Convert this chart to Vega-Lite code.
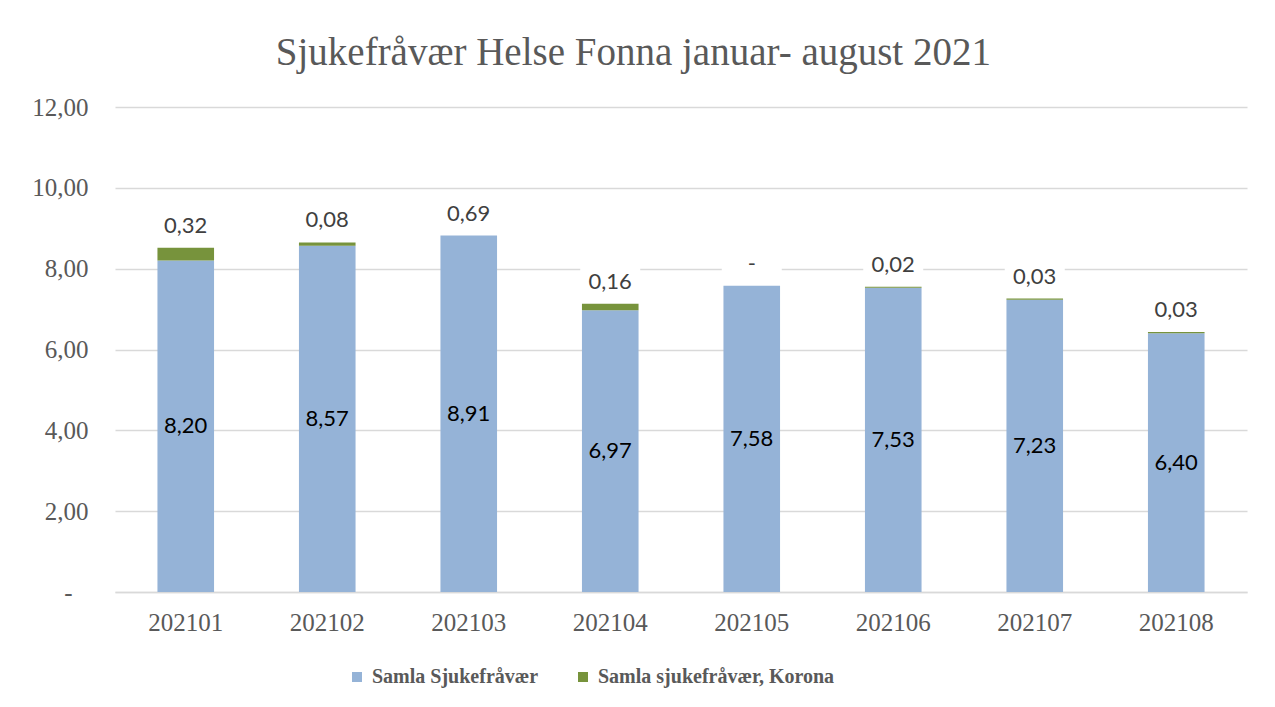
{
  "$schema": "https://vega.github.io/schema/vega-lite/v6.json",
  "width": 1132,
  "height": 485,
  "autosize": {"type": "none"},
  "padding": {"left": 115, "top": 107, "right": 28, "bottom": 115},
  "background": "white",
  "config": {"view": {"stroke": null}},
  "title": {
    "text": "Sjukefråvær Helse Fonna januar- august 2021",
    "font": "Liberation Serif",
    "fontSize": 39,
    "fontWeight": "normal",
    "color": "#595959",
    "anchor": "middle",
    "frame": "bounds",
    "baseline": "alphabetic",
    "offset": -9,
    "dx": -6
  },
  "data": {
    "values": [
      {"maaned": "202101", "samla": 8.20, "korona": 0.32, "samlaTekst": "8,20", "koronaTekst": "0,32"},
      {"maaned": "202102", "samla": 8.57, "korona": 0.08, "samlaTekst": "8,57", "koronaTekst": "0,08"},
      {"maaned": "202103", "samla": 8.82, "korona": 0.00, "samlaTekst": "8,91", "koronaTekst": "0,69"},
      {"maaned": "202104", "samla": 6.97, "korona": 0.16, "samlaTekst": "6,97", "koronaTekst": "0,16"},
      {"maaned": "202105", "samla": 7.58, "korona": 0.00, "samlaTekst": "7,58", "koronaTekst": "-"},
      {"maaned": "202106", "samla": 7.53, "korona": 0.02, "samlaTekst": "7,53", "koronaTekst": "0,02"},
      {"maaned": "202107", "samla": 7.23, "korona": 0.03, "samlaTekst": "7,23", "koronaTekst": "0,03"},
      {"maaned": "202108", "samla": 6.40, "korona": 0.03, "samlaTekst": "6,40", "koronaTekst": "0,03"}
    ]
  },
  "encoding": {
    "x": {
      "field": "maaned",
      "type": "nominal",
      "title": null,
      "scale": {"paddingInner": 0.6, "paddingOuter": 0.3},
      "axis": {
        "labelAngle": 0,
        "labelFont": "Liberation Serif",
        "labelFontSize": 25,
        "labelColor": "#595959",
        "ticks": false,
        "domainColor": "#D9D9D9",
        "domainWidth": 1.5,
        "labelPadding": 18
      }
    }
  },
  "layer": [
    {
      "transform": [{"fold": ["samla", "korona"], "as": ["serie", "verdi"]}],
      "mark": {"type": "bar"},
      "encoding": {
        "y": {
          "field": "verdi",
          "type": "quantitative",
          "stack": "zero",
          "title": null,
          "scale": {"domain": [0, 12], "nice": false},
          "axis": {
            "values": [0, 2, 4, 6, 8, 10, 12],
            "labelExpr": "datum.value == 0 ? '-' : replace(format(datum.value, '.2f'), '.', ',')",
            "labelFont": "Liberation Serif",
            "labelFontSize": 25,
            "labelColor": "#595959",
            "ticks": false,
            "domain": false,
            "gridColor": "#D9D9D9",
            "gridWidth": 1.5,
            "labelPadding": {"condition": {"test": "datum.value == 0", "value": 43}, "value": 27}
          }
        },
        "color": {
          "field": "serie",
          "type": "nominal",
          "scale": {"domain": ["samla", "korona"], "range": ["#95B3D7", "#77933C"]},
          "legend": {
            "orient": "none",
            "legendX": 232,
            "legendY": 560,
            "direction": "horizontal",
            "title": null,
            "symbolType": "square",
            "symbolSize": 100,
            "symbolStrokeWidth": 0,
            "labelFont": "Liberation Serif",
            "labelFontWeight": "bold",
            "labelFontSize": 20,
            "labelColor": "#595959",
            "labelLimit": 400,
            "labelOffset": 5,
            "columnPadding": 34,
            "labelExpr": "datum.label == 'samla' ? 'Samla Sjukefråvær' : 'Samla sjukefråvær, Korona'"
          }
        },
        "order": {"field": "serie", "sort": "descending"}
      }
    },
    {
      "transform": [{"calculate": "datum.samla + datum.korona", "as": "topp"}],
      "mark": {"type": "tick", "color": "white", "opacity": 1, "thickness": 28, "size": 60, "yOffset": -22},
      "encoding": {
        "y": {"field": "topp", "type": "quantitative", "title": null}
      }
    },
    {
      "transform": [{"calculate": "datum.samla + datum.korona", "as": "topp"}],
      "mark": {"type": "text", "font": "Lato", "fontSize": 22, "color": "#404040", "baseline": "middle", "dy": -22},
      "encoding": {
        "y": {"field": "topp", "type": "quantitative", "title": null},
        "text": {"field": "koronaTekst"}
      }
    },
    {
      "transform": [{"calculate": "datum.samla / 2", "as": "midt"}],
      "mark": {"type": "text", "font": "Lato", "fontSize": 22, "color": "#000000", "baseline": "middle"},
      "encoding": {
        "y": {"field": "midt", "type": "quantitative", "title": null},
        "text": {"field": "samlaTekst"}
      }
    }
  ]
}
